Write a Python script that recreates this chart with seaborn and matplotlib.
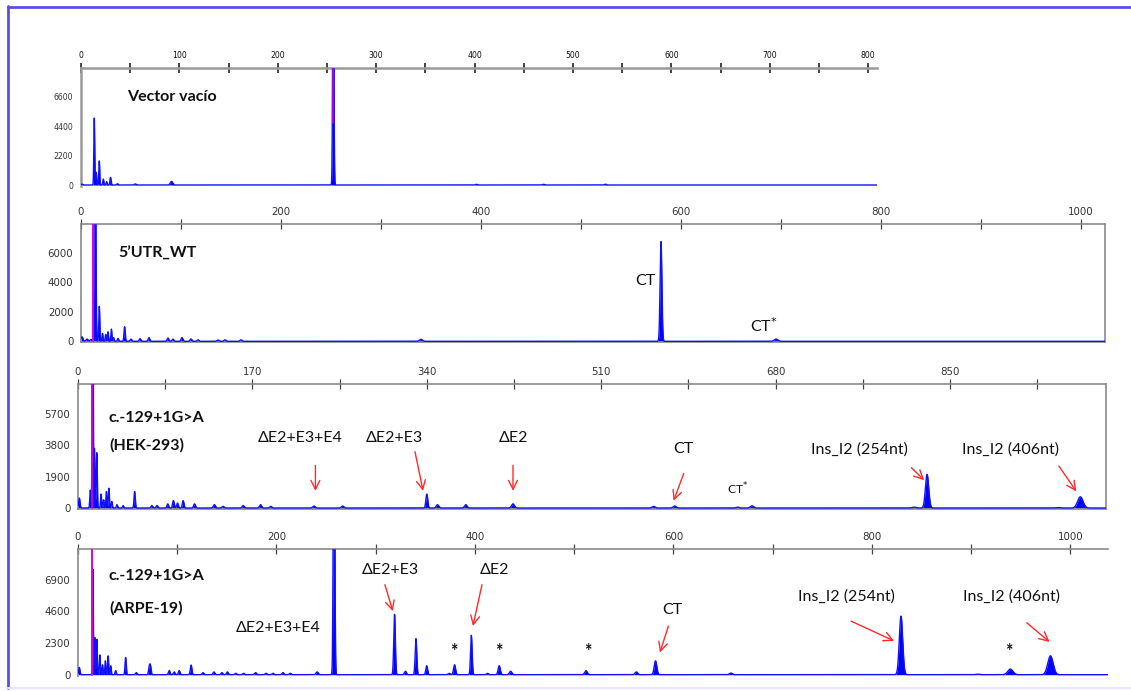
import numpy as np
import pandas as pd
import matplotlib
matplotlib.use("Agg")
import matplotlib.pyplot as plt
import seaborn as sns
from matplotlib import font_manager as fm
from matplotlib.lines import Line2D

# ---------------- data (peaks) ----------------
# Panel 1: Vector vacio
vec_pos = [1, 13.5, 15.5, 18.6, 22.7, 26, 30, 37, 55, 92, 256.4, 402, 470, 533]
vec_rfu = [60, 5000, 950, 1800, 440, 250, 570, 100, 80, 270, 20000, 50, 50, 60]
vec_wid = [1, 0.45, 0.5, 0.45, 0.5, 0.5, 0.6, 0.8, 1, 1.2, 0.6, 1, 1, 1]

# Panel 2: 5'UTR_WT
wt_pos = [1, 6, 10, 14, 18.3, 21.5, 24.7, 27, 30.4, 32.6, 37, 43.6, 50, 59, 68,
          87, 92, 101, 110, 117, 137, 144, 160, 340, 580, 695]
wt_rfu = [300, 150, 120, 20000, 2380, 540, 470, 650, 830, 250, 200, 990, 150,
          180, 250, 220, 150, 250, 160, 100, 90, 100, 100, 130, 6770, 150]
wt_wid = [1, 1, 1, 0.7, 0.5, 0.5, 0.5, 0.5, 0.5, 0.5, 0.6, 0.6, 0.8, 0.8, 0.8,
          0.8, 0.8, 0.9, 0.9, 0.9, 1, 1, 1, 1.5, 0.9, 1.8]

# Panel 3: c.-129+1G>A (HEK-293)
hek_pos = [1.3, 12, 14.3, 16, 18.3, 22.5, 25, 27.7, 30.1, 33, 38, 44, 55.2, 72,
           77, 87.5, 93, 97, 102.5, 113.6, 133, 141.5, 161, 178, 188, 230, 258,
           340, 350.4, 378, 424, 561, 581.6, 643, 657, 815, 827.6, 955, 977]
hek_rfu = [600, 1080, 20000, 3600, 3350, 840, 500, 1000, 1200, 400, 200, 150,
           1000, 150, 150, 250, 450, 300, 450, 250, 200, 100, 150, 200, 100, 120,
           120, 840, 200, 200, 250, 100, 120, 50, 130, 50, 2040, 30, 680]
hek_wid = [0.7, 0.5, 0.45, 0.5, 0.5, 0.5, 0.5, 0.5, 0.5, 0.5, 0.6, 0.6, 0.6, 0.8,
           0.8, 0.8, 0.8, 0.8, 0.8, 0.9, 1, 1, 1, 1, 1, 1.2, 1.2, 0.9, 1.2, 1.2,
           1.4, 1.4, 1.5, 1.5, 1.6, 2, 1.6, 2, 2.6]

# Panel 4: c.-129+1G>A (ARPE-19)
arpe_pos = [1.3, 15, 17, 19, 22, 24.7, 27.6, 30.4, 33, 38, 48, 58.8, 71.8, 73,
            92, 97, 102, 114, 126, 137, 145, 150.6, 159, 167, 179, 189.5, 196.5,
            206.6, 214, 241, 258, 319, 330, 340.6, 351.4, 374, 379.5, 396.4,
            412.6, 424.5, 436, 512, 562.7, 582, 658, 829.4, 907, 939.6, 980]
arpe_rfu = [530, 7670, 2700, 2570, 1440, 720, 1010, 1370, 650, 300, 1250, 150,
            530, 600, 300, 200, 300, 700, 150, 200, 150, 200, 100, 100, 150, 100,
            100, 150, 100, 200, 25000, 4380, 250, 2620, 650, 100, 720, 2860, 100,
            650, 250, 290, 200, 1010, 120, 4260, 40, 410, 1370]
arpe_wid = [0.7, 0.45, 0.45, 0.45, 0.5, 0.5, 0.5, 0.5, 0.5, 0.6, 0.6, 0.8, 0.7,
            0.7, 0.8, 0.8, 0.8, 0.8, 0.9, 0.9, 0.9, 0.9, 0.9, 0.9, 1, 1, 1, 1, 1,
            1.1, 0.7, 0.8, 1, 0.8, 0.9, 1, 1, 0.8, 1, 1.1, 1.2, 1.3, 1.3, 1.3,
            1.5, 1.7, 2, 2.6, 2.7]

# size-standard markers (magenta)
marker_pos = [256.4, 12.4, 13.8, 13.9]

# axis ranges and tick steps of the four panels
panel_xmax = [809, 1024, 1002, 1038]
panel_ymax = [8740, 7946, 7498, 9113]
panel_xstep = [100, 200, 170, 200]
panel_ystep = [2200, 2000, 1900, 2300]

# ---------------- fonts ----------------
sns.set_theme(style="white")
names = {f.name for f in fm.fontManager.ttflist}
if "Liberation Sans Narrow" in names:
    LBL = "Liberation Sans Narrow"
    LBL_FS = 13.3
else:
    LBL = "Lato"
    LBL_FS = 11.5
plt.rcParams["font.family"] = ["DejaVu Sans"]

W, H = 1131, 691
fig = plt.figure(figsize=(W / 100, H / 100), dpi=100)
fig.patch.set_facecolor("white")


def px_axes(l, r, t, b):
    return fig.add_axes([l / W, 1 - b / H, (r - l) / W, (b - t) / H])


def make_trace(xmax, pos, rfu, wid):
    x = np.arange(0, xmax, 0.1)
    y = np.zeros_like(x)
    for p, h, w in zip(pos, rfu, wid):
        y += h * np.exp(-0.5 * ((x - p) / w) ** 2)
    return pd.DataFrame({"size": x, "rfu": y})


def draw_trace(ax, df):
    ax.fill_between(df["size"], 0, df["rfu"], color="#0000FF", lw=0, zorder=2)
    sns.lineplot(data=df, x="size", y="rfu", ax=ax, color="#1010FF",
                 linewidth=1.0, estimator=None, sort=False, zorder=3)


def style_axis(ax, i, spines, spine_color, spine_lw, tick_fs, hpx):
    xmax, ymax = panel_xmax[i], panel_ymax[i]
    xs, ys = panel_xstep[i], panel_ystep[i]
    ax.set_xlim(0, xmax)
    ax.set_ylim(-ymax / hpx * 1.0, ymax)
    ax.set_facecolor("white")
    ax.xaxis.set_ticks_position("top")
    ax.set_xticks(np.arange(0, xmax + 1, xs))
    ax.set_xticklabels([str(int(v)) for v in np.arange(0, xmax + 1, xs)])
    ax.set_xticks(np.arange(xs / 2, xmax, xs), minor=True)
    ax.set_yticks(np.arange(0, ymax, ys))
    ax.set_yticklabels([str(int(v)) for v in np.arange(0, ymax, ys)])
    ax.set_yticks(np.arange(ys / 2, ymax, ys), minor=True)
    ax.tick_params(axis="x", which="both", direction="inout", length=7,
                   width=0.9, colors="#444444", labelsize=tick_fs, pad=2,
                   top=True, bottom=False, labeltop=True, labelbottom=False)
    ax.tick_params(axis="y", which="both", direction="inout", length=7,
                   width=0.9, colors="#444444", labelsize=tick_fs, pad=2)
    for lab in ax.get_xticklabels() + ax.get_yticklabels():
        lab.set_color("#333333")
    for s in ["top", "bottom", "left", "right"]:
        ax.spines[s].set_visible(s in spines)
        ax.spines[s].set_color(spine_color)
        ax.spines[s].set_linewidth(spine_lw)
    ax.set_xlabel("")
    ax.set_ylabel("")
    ax.grid(False)


def label(ax, x, y, s, bold=False, ha="center", fs=None):
    ax.text(x, y, s, family=[LBL, "DejaVu Sans"], fontsize=fs or LBL_FS,
            fontweight="bold" if bold else "normal", ha=ha, va="center",
            color="#111111", zorder=5)


def arrow(ax, x0, y0, x1, y1):
    ax.annotate("", xy=(x1, y1), xytext=(x0, y0),
                arrowprops=dict(arrowstyle="->", color="#FF2A2A", lw=1.0,
                                mutation_scale=16, shrinkA=0, shrinkB=0),
                zorder=6)


# ---------------- panel 1 ----------------
ax1 = px_axes(81, 877, 68, 186)
draw_trace(ax1, make_trace(809, vec_pos, vec_rfu, vec_wid))
style_axis(ax1, 0, ["top", "left"], "#9a9a9a", 1.8, 5.6, 118)
ax1.tick_params(axis="x", which="both", colors="#111111", width=1.1)
ax1.plot([marker_pos[0]] * 2, [4600, 8740], color="#D000D0", lw=1.2, zorder=4)
label(ax1, 46.4, 6570, "Vector vacío", bold=True, ha="left")

# ---------------- panel 2 ----------------
ax2 = px_axes(81, 1105, 224.3, 342.3)
draw_trace(ax2, make_trace(1024, wt_pos, wt_rfu, wt_wid))
style_axis(ax2, 1, ["top", "bottom", "left", "right"], "#8a8a8a", 1.2, 7.4, 118)
ax2.plot([marker_pos[1]] * 2, [0, 7946], color="#E000E0", lw=1.4, zorder=4)
label(ax2, 37, 5930, "5\u2019UTR_WT", bold=True, ha="left")
label(ax2, 564, 4080, "CT")
label(ax2, 683, 1050, "CT$^{*}$")

# ---------------- panel 3 ----------------
ax3 = px_axes(78, 1106, 384.3, 509)
draw_trace(ax3, make_trace(1002, hek_pos, hek_rfu, hek_wid))
style_axis(ax3, 2, ["top", "bottom", "left", "right"], "#8a8a8a", 1.2, 7.4, 124.7)
ax3.plot([marker_pos[2]] * 2, [0, 7498], color="#E000E0", lw=1.2, zorder=4)
label(ax3, 30.2, 5450, "c.-129+1G>A", bold=True, ha="left")
label(ax3, 30.2, 3810, "(HEK-293)", bold=True, ha="left")
label(ax3, 216.3, 4250, "\u0394E2+E3+E4")
arrow(ax3, 231.4, 2585, 231.4, 1040)
label(ax3, 308.3, 4250, "\u0394E2+E3")
arrow(ax3, 328.5, 3410, 336.3, 1040)
label(ax3, 424.4, 4250, "\u0394E2")
arrow(ax3, 424, 2585, 424, 1040)
label(ax3, 589.7, 3550, "CT")
arrow(ax3, 590.4, 2087, 580.5, 440)
label(ax3, 643, 1150, "CT$^{*}$", fs=LBL_FS * 0.75)
label(ax3, 761.4, 3550, "Ins_I2 (254nt)")
arrow(ax3, 812.3, 2447, 824.8, 1684)
label(ax3, 909.4, 3550, "Ins_I2 (406nt)")
arrow(ax3, 956.1, 2543, 973.1, 1004)

# ---------------- panel 4 ----------------
ax4 = px_axes(78, 1108, 549.3, 675.7)
draw_trace(ax4, make_trace(1038, arpe_pos, arpe_rfu, arpe_wid))
style_axis(ax4, 3, ["top", "left"], "#8a8a8a", 1.2, 7.4, 126.4)
ax4.plot([marker_pos[3]] * 2, [0, 9113], color="#E000E0", lw=1.4, zorder=4)
label(ax4, 31.2, 7138, "c.-129+1G>A", bold=True, ha="left")
label(ax4, 31.2, 4787, "(ARPE-19)", bold=True, ha="left")
label(ax4, 201.8, 3418, "\u0394E2+E3+E4")
label(ax4, 314.9, 7621, "\u0394E2+E3")
arrow(ax4, 309.3, 6539, 317.3, 4614)
label(ax4, 419.6, 7621, "\u0394E2")
arrow(ax4, 407.1, 6539, 398, 3533)
for sx in [379.1, 424.5, 514.2, 937.6]:
    label(ax4, sx, 1700, "*", bold=True, fs=LBL_FS * 1.1)
label(ax4, 599.4, 4737, "CT")
arrow(ax4, 595, 3533, 586.4, 1615)
label(ax4, 774.6, 5653, "Ins_I2 (254nt)")
arrow(ax4, 779.1, 3893, 822.5, 2451)
label(ax4, 940.9, 5653, "Ins_I2 (406nt)")
arrow(ax4, 956.1, 3778, 979.1, 2379)

# ---------------- slide frame ----------------
border = "#5B4CE6"
fig.add_artist(Line2D([8 / W, 8 / W], [1 - 6 / H, 1 - 688 / H],
                      transform=fig.transFigure, color=border, lw=2.0))
fig.add_artist(Line2D([8 / W, 1.0], [1 - 7 / H, 1 - 7 / H],
                      transform=fig.transFigure, color=border, lw=2.0))
fig.add_artist(Line2D([8 / W, 1.0], [1 - 688 / H, 1 - 688 / H],
                      transform=fig.transFigure, color="#E6E4FF", lw=1.5))

fig.savefig("out.png", dpi=100, facecolor="white")
